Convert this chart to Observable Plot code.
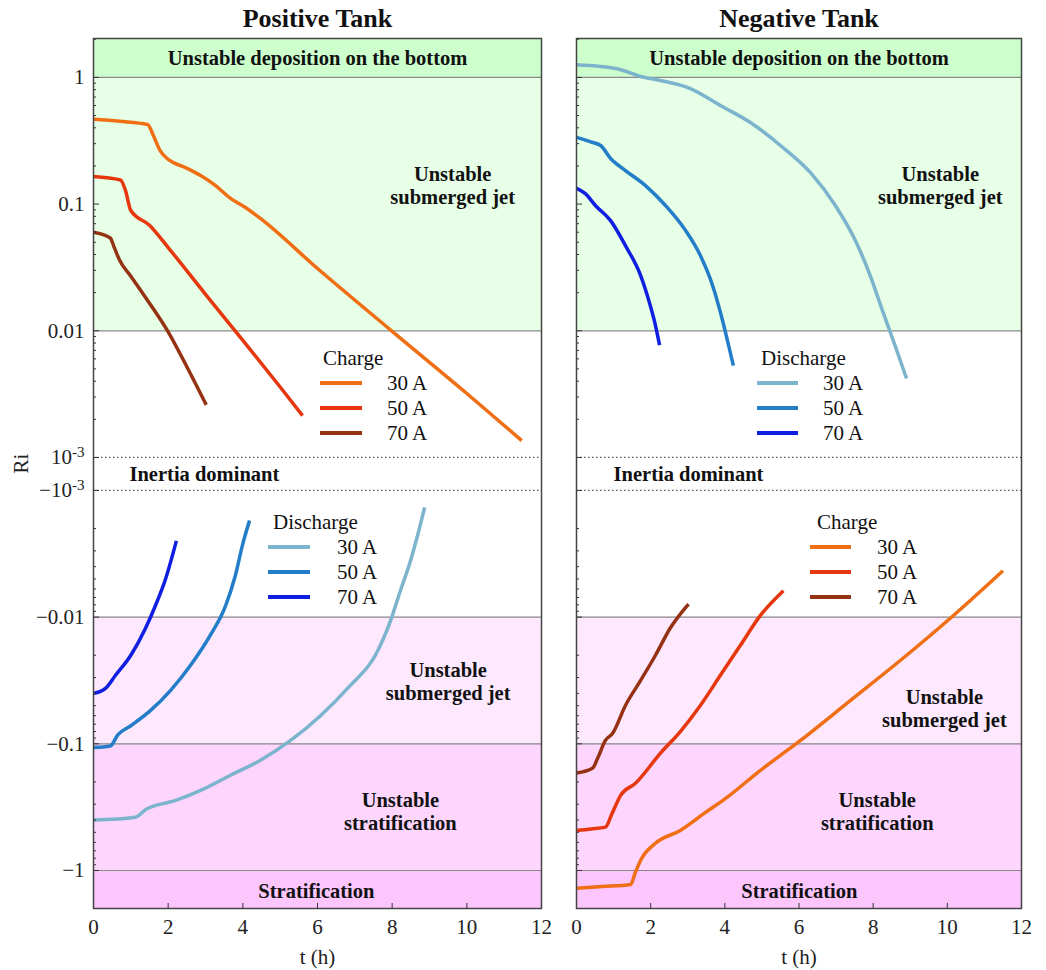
<!DOCTYPE html>
<html><head><meta charset="utf-8">
<script src="https://cdn.jsdelivr.net/npm/d3@7"></script>
<script src="https://cdn.jsdelivr.net/npm/@observablehq/plot@0.6"></script>
<style>
body{margin:0;background:#fff;}
#wrap{position:relative;width:1046px;height:970px;font-family:"Liberation Serif","Times New Roman",serif;color:#111;}
.panel{position:absolute;top:0;}
.panel g[aria-label="y-axis tick label"], .panel g[aria-label="x-axis tick label"]{font-size:21px;}
.lg{position:absolute;font-size:21px;line-height:24px;white-space:nowrap;color:#111;}
.sw{position:absolute;height:4px;}
</style></head><body><div id="wrap"></div>
<script>
// ---------- data: [t (h), Ri] ----------
// Positive tank
const posCharge30 = [[0,0.467],[0.7,0.45],[1.45,0.425],[1.6,0.35],[1.78,0.265],[2.05,0.22],[2.45,0.195],[2.87,0.168],[3.27,0.14],[3.67,0.111],[4.07,0.094],[4.47,0.077],[6,0.031],[8,0.0099],[10,0.0032],[11.47,0.00136]];
const posCharge50 = [[0,0.165],[0.72,0.155],[0.85,0.13],[1,0.089],[1.5,0.068],[2,0.0454],[3,0.0194],[4,0.0084],[5,0.0036],[5.6,0.00214]];
const posCharge70 = [[0,0.06],[0.45,0.054],[0.55,0.046],[0.7,0.036],[1,0.027],[1.5,0.0165],[2,0.0098],[2.5,0.0052],[3.02,0.0026]];
const posDischarge30 = [[0,-0.40],[1.12,-0.38],[1.4,-0.33],[2.2,-0.28],[2.87,-0.233],[3.67,-0.177],[4.47,-0.135],[5.28,-0.094],[6.08,-0.06],[6.88,-0.0346],[7.55,-0.02],[7.96,-0.0106],[8.22,-0.0062],[8.49,-0.0036],[8.71,-0.0021],[8.87,-0.00136]];
const posDischarge50 = [[0,-0.107],[0.45,-0.104],[0.65,-0.085],[1,-0.072],[1.53,-0.0545],[2.06,-0.038],[2.6,-0.024],[3.13,-0.0139],[3.54,-0.0081],[3.8,-0.0047],[3.99,-0.0027],[4.18,-0.00173]];
const posDischarge70 = [[0,-0.040],[0.32,-0.0365],[0.59,-0.0288],[1,-0.02],[1.39,-0.0123],[1.66,-0.0081],[1.93,-0.005],[2.22,-0.0025]];
// Negative tank
const negDischarge30 = [[0,1.26],[0.65,1.22],[1.19,1.15],[1.73,1.016],[2.26,0.946],[3.07,0.817],[3.88,0.6],[4.69,0.44],[5.5,0.29],[6.31,0.177],[6.98,0.0975],[7.52,0.0516],[7.92,0.0273],[8.27,0.0139],[8.6,0.0075],[8.9,0.0042]];
const negDischarge50 = [[0,0.336],[0.38,0.31],[0.65,0.29],[0.92,0.229],[1.32,0.184],[1.86,0.14],[2.4,0.0975],[2.94,0.062],[3.34,0.0393],[3.67,0.0228],[3.94,0.012],[4.1,0.0077],[4.23,0.0053]];
const negDischarge70 = [[0,0.133],[0.24,0.121],[0.51,0.0975],[0.92,0.074],[1.32,0.047],[1.73,0.0273],[1.99,0.0158],[2.13,0.011],[2.24,0.0077]];
const negCharge30 = [[0,-1.38],[0.7,-1.34],[1.46,-1.29],[1.58,-1.05],[1.73,-0.83],[2.13,-0.61],[2.8,-0.483],[3.48,-0.348],[4.02,-0.27],[4.96,-0.162],[6.04,-0.094],[7.39,-0.0454],[8.73,-0.022],[10.08,-0.0102],[11.5,-0.0043]];
const negCharge50 = [[0,-0.483],[0.4,-0.47],[0.78,-0.455],[0.95,-0.36],[1.19,-0.255],[1.59,-0.205],[2.26,-0.119],[2.8,-0.08],[3.34,-0.0498],[3.88,-0.0288],[4.42,-0.0167],[4.96,-0.0097],[5.58,-0.0062]];
const negCharge70 = [[0,-0.17],[0.43,-0.156],[0.57,-0.13],[0.78,-0.094],[0.97,-0.083],[1.32,-0.0498],[1.73,-0.0316],[2.13,-0.02],[2.53,-0.0122],[3.02,-0.0079]];

const currents = ["30 A","50 A","70 A"];
const chargeColors = ["#f06e14","#e6370f","#963214"];
const dischargeColors = ["#7db4cd","#237dc8","#0f1ee1"];
const panelTitles = ["Positive Tank","Negative Tank"];

const majorTicks = [1, 0.1, 0.01, 0.001, -0.001, -0.01, -0.1, -1];
const majorLabels = ["1","0.1","0.01","10^-3","\u221210^-3","\u22120.01","\u22120.1","\u22121"];
const xTicks = [0,2,4,6,8,10,12];

// regimes (value bands)
const bands = [
  {lo:1, hi:10, fill:"#ccffcc"},
  {lo:0.01, hi:1, fill:"#e6ffe6"},
  {lo:-0.1, hi:-0.01, fill:"#fde8fd"},
  {lo:-1, hi:-0.1, fill:"#fdd5fd"},
  {lo:-10, hi:-1, fill:"#fcc5fc"}
];
const bandLines = [1, 0.01, -0.01, -0.1, -1];
const dottedLines = [0.001, -0.001];

const labelsPositive = [
  {text:"Unstable deposition on the bottom", t:6, ri:1.42},
  {text:"Unstable\nsubmerged jet", t:9.62, ri:0.14},
  {text:"Inertia dominant", t:2.97, ri:0},
  {text:"Unstable\nsubmerged jet", t:9.5, ri:-0.032},
  {text:"Unstable\nstratification", t:8.22, ri:-0.342},
  {text:"Stratification", t:5.97, ri:-1.44}
];
const labelsNegative = [
  {text:"Unstable deposition on the bottom", t:6, ri:1.42},
  {text:"Unstable\nsubmerged jet", t:9.81, ri:0.14},
  {text:"Inertia dominant", t:3.02, ri:0},
  {text:"Unstable\nsubmerged jet", t:9.92, ri:-0.0525},
  {text:"Unstable\nstratification", t:8.11, ri:-0.342},
  {text:"Stratification", t:6.01, ri:-1.44}
];

// ---------- scale transform: two log branches with a gap ----------
const GAP = 0.26;
function pos(v) {
  if (v === 0) return -GAP / 2;
  return v > 0 ? Math.log10(v) + 3 : -(Math.log10(-v) + 3) - GAP;
}
const yDomain = [-3.56, 3.307];
const minorTicks = [];
for (const d of [0.001, 0.01, 0.1, 1]) for (let k = 2; k <= 9; k++) {
  if (pos(k*d) <= yDomain[1]) minorTicks.push(pos(k*d));
  if (pos(-k*d) >= yDomain[0]) minorTicks.push(pos(-k*d));
}
const labelMap = new Map(majorTicks.map((v,i) => [pos(v), majorLabels[i]]));

function toRows(arrs, colors, prefix) {
  return arrs.flatMap((a, s) => a.map(([t, ri]) => ({t, ri, s: prefix + currents[s], color: colors[s]})));
}
const panels = [
  {title: panelTitles[0], rows: [...toRows([posCharge30,posCharge50,posCharge70], chargeColors, "c"), ...toRows([posDischarge30,posDischarge50,posDischarge70], dischargeColors, "d")], labels: labelsPositive},
  {title: panelTitles[1], rows: [...toRows([negDischarge30,negDischarge50,negDischarge70], dischargeColors, "d"), ...toRows([negCharge30,negCharge50,negCharge70], chargeColors, "c")], labels: labelsNegative}
];

const wrap = document.getElementById("wrap");
const geo = [
  {left:0, width:560, ml:93, mr:19, yLabels:true},
  {left:560, width:486, ml:16, mr:25, yLabels:false}
];

panels.forEach((p, i) => {
  const g = geo[i];
  const chart = Plot.plot({
    width: g.width, height: 970,
    marginLeft: g.ml, marginRight: g.mr, marginTop: 38, marginBottom: 62,
    style: {fontFamily: "'Liberation Serif','Times New Roman',serif", fontSize: "20px", color: "#222", background: "transparent", overflow: "visible"},
    x: {domain: [0, 12]},
    y: {domain: yDomain},
    marks: [
      Plot.rect(bands, {y1: d => pos(d.lo), y2: d => pos(d.hi), fill: d => d.fill, clip: true}),
      Plot.ruleY(bandLines, {y: d => pos(d), stroke: "#8a8a8a", strokeWidth: 1.2}),
      Plot.ruleY(dottedLines, {y: d => pos(d), stroke: "#555", strokeWidth: 1.2, strokeDasharray: "1.5,2.5"}),
      Plot.line(p.rows, {x: "t", y: d => pos(d.ri), z: "s", stroke: "color", strokeWidth: 3.5, curve: "monotone-x", strokeLinejoin: "round", strokeLinecap: "butt"}),
      Plot.text(p.labels, {x: "t", y: d => pos(d.ri), text: "text", fontWeight: "bold", fontSize: 20.5, lineHeight: 1.12, fill: "#111"}),
      Plot.axisY(majorTicks.map(pos), {tickSize: -6, tickPadding: 15, tickFormat: d => g.yLabels ? labelMap.get(d) : "", stroke: "#333", fill: "#222"}),
      Plot.axisY(minorTicks, {tickSize: -3, tickFormat: () => "", stroke: "#333"}),
      Plot.axisX(xTicks, {tickSize: -5, tickPadding: 16, label: null, stroke: "#333", fill: "#222"}),
      Plot.frame({stroke: "#444", strokeWidth: 1.5}),
      Plot.text([p.title], {frameAnchor: "top", lineAnchor: "middle", dy: -20, fontSize: 26, fontWeight: "bold", fill: "#111"}),
      Plot.text(["t (h)"], {frameAnchor: "bottom", lineAnchor: "middle", dy: 49, fontSize: 21, fill: "#222"}),
      ...(g.yLabels ? [Plot.text(["Ri"], {frameAnchor: "left", dx: -72, rotate: -90, fontSize: 21, fill: "#222"})] : [])
    ]
  });
  chart.classList.add("panel");
  chart.style.left = g.left + "px";
  // render the 10^-3 exponent as a real superscript
  chart.querySelectorAll('g[aria-label="y-axis tick label"] text').forEach(t => {
    const s = t.textContent;
    if (s.includes("^")) {
      const [base, exp] = s.split("^");
      t.textContent = base;
      const ts = document.createElementNS("http://www.w3.org/2000/svg", "tspan");
      ts.setAttribute("dy", "-0.45em");
      ts.setAttribute("font-size", "0.72em");
      ts.textContent = exp;
      t.appendChild(ts);
    }
  });
  wrap.appendChild(chart);
});

// ---------- legends (HTML overlay) ----------
const legends = [
  {title:"Charge", colors: chargeColors, titleX:323, titleY:358, lineX:320, lineW:42, labelX:387, rowY:383},
  {title:"Discharge", colors: dischargeColors, titleX:273, titleY:522, lineX:268, lineW:42, labelX:337, rowY:547},
  {title:"Discharge", colors: dischargeColors, titleX:761, titleY:358, lineX:757, lineW:41, labelX:823, rowY:383},
  {title:"Charge", colors: chargeColors, titleX:817, titleY:522, lineX:810, lineW:41, labelX:877, rowY:547}
];
legends.forEach(L => {
  const t = document.createElement("div");
  t.className = "lg"; t.textContent = L.title;
  t.style.left = L.titleX + "px"; t.style.top = (L.titleY - 12) + "px";
  wrap.appendChild(t);
  currents.forEach((c, i) => {
    const y = L.rowY + i * 25;
    const sw = document.createElement("div");
    sw.className = "sw";
    sw.style.left = L.lineX + "px"; sw.style.top = (y - 2) + "px";
    sw.style.width = L.lineW + "px"; sw.style.background = L.colors[i];
    wrap.appendChild(sw);
    const lab = document.createElement("div");
    lab.className = "lg"; lab.textContent = c;
    lab.style.left = L.labelX + "px"; lab.style.top = (y - 12) + "px";
    wrap.appendChild(lab);
  });
});
</script>
</body></html>
